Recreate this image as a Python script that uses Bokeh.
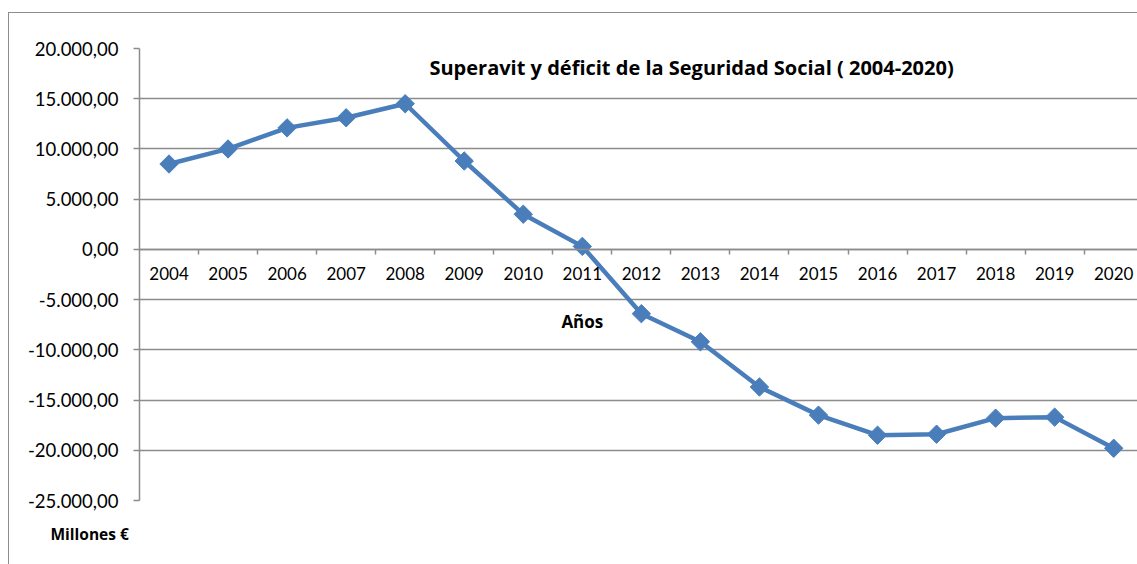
from bokeh.plotting import figure
from bokeh.models import FixedTicker, Label, Title
from bokeh.embed import file_html
from bokeh.resources import INLINE
import numpy as np

# ---- data ----
years = [2004, 2005, 2006, 2007, 2008, 2009, 2010, 2011, 2012, 2013,
         2014, 2015, 2016, 2017, 2018, 2019, 2020]
saldo = [8500, 10000, 12100, 13100, 14500, 8800, 3500, 300, -6400, -9200,
         -13700, -16500, -18500, -18400, -16800, -16700, -19800]
y_ticks = [20000, 15000, 10000, 5000, 0, -5000, -10000, -15000, -20000, -25000]
y_tick_labels = ["20.000,00", "15.000,00", "10.000,00", "5.000,00", "0,00",
                 "-5.000,00", "-10.000,00", "-15.000,00", "-20.000,00", "-25.000,00"]
title_text = "Superavit y déficit de la Seguridad Social ( 2004-2020)"
x_title = "Años"
y_title = "Millones €"

FONT = "Lato"
BFONT = "Open Sans"
GRAY = "#8c8c8c"
BLUE = "#4A7EBB"

boundaries = [y + 0.5 for y in years[:-1]]

p = figure(width=1129, height=552,
           x_range=(years[0] - 0.5, years[0] - 0.5 + 16.92),
           y_range=(min(y_ticks), max(y_ticks)),
           output_backend="svg", toolbar_location=None,
           min_border_left=130, min_border_right=0,
           min_border_top=35, min_border_bottom=65)
p.margin = (12, 0, 0, 8)
p.styles = {"border-left": "1px solid #8c8c8c", "border-top": "1px solid #8c8c8c"}
p.outline_line_color = None
p.background_fill_color = "white"
p.border_fill_color = "white"

# x axis on the zero line
xa = p.xaxis[0]
xa.fixed_location = 0
xa.ticker = FixedTicker(ticks=years, minor_ticks=boundaries)
xa.major_tick_out = 0
xa.major_tick_in = 0
xa.minor_tick_out = 5
xa.minor_tick_in = 0
xa.minor_tick_line_color = GRAY
xa.minor_tick_line_width = 1.5
xa.axis_line_color = GRAY
xa.axis_line_width = 1.5
xa.major_label_standoff = 13
xa.major_label_text_font = FONT
xa.major_label_text_font_size = "17px"
xa.major_label_text_color = "black"
p.xgrid.visible = False

ya = p.yaxis[0]
ya.ticker = FixedTicker(ticks=y_ticks, minor_ticks=[])
ya.major_label_overrides = {t: s for t, s in zip(y_ticks, y_tick_labels)}
ya.major_tick_out = 6
ya.major_tick_in = 0
ya.major_tick_line_color = GRAY
ya.major_tick_line_width = 1.5
ya.axis_line_color = GRAY
ya.axis_line_width = 1.5
ya.major_label_standoff = 15
ya.major_label_text_font = FONT
ya.major_label_text_font_size = "18.5px"
ya.major_label_text_color = "black"

p.ygrid.ticker = FixedTicker(ticks=y_ticks)
p.ygrid.grid_line_color = GRAY
p.ygrid.grid_line_width = 1.5

p.line(years, saldo, line_color=BLUE, line_width=4.5)
p.scatter(years, saldo, marker="square", angle=np.pi / 4, size=13,
          fill_color=BLUE, line_color=BLUE)

p.add_layout(Label(x=2012.85, y=18150, text=title_text, text_font=BFONT,
                   text_font_style="bold", text_font_size="20px",
                   text_align="center", text_baseline="middle", text_color="black"))
p.add_layout(Label(x=2011, y=0, y_offset=-72, text=x_title, text_font=BFONT,
                   text_font_style="bold", text_font_size="17px",
                   text_align="center", text_baseline="middle", text_color="black"))
p.add_layout(Title(text=y_title, text_font=BFONT, text_font_style="bold",
                   text_font_size="15.5px", text_color="black",
                   align="left", offset=-89, standoff=41), "below")

open("out.html", "w").write(file_html(p, INLINE))
